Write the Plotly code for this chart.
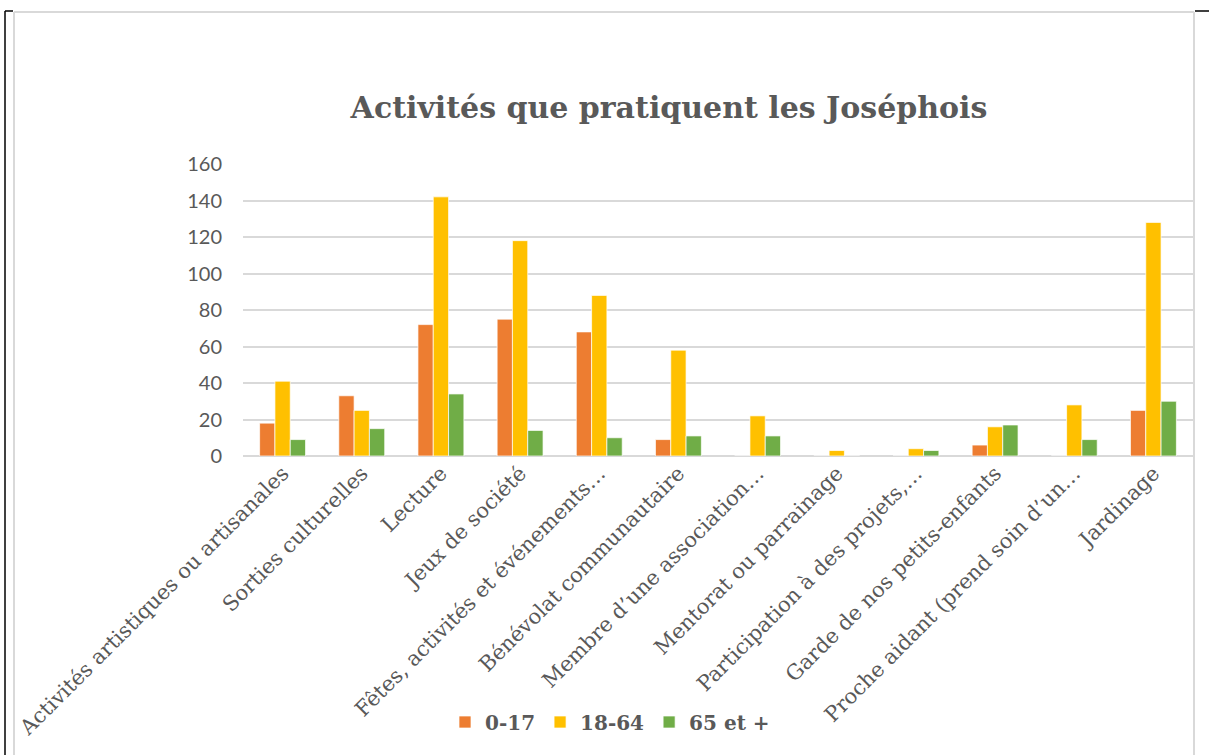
import plotly.graph_objects as go

CATEGORIES = [
    "Activités artistiques ou artisanales",
    "Sorties culturelles",
    "Lecture",
    "Jeux de société",
    "Fêtes, activités et événements…",
    "Bénévolat communautaire",
    "Membre d’une association…",
    "Mentorat ou parrainage",
    "Participation à des projets,…",
    "Garde de nos petits-enfants",
    "Proche aidant (prend soin d’un…",
    "Jardinage",
]

AGE_0_17 = [18, 33, 72, 75, 68, 9, 0, 0, 0, 6, 0, 25]
AGE_18_64 = [41, 25, 142, 118, 88, 58, 22, 3, 4, 16, 28, 128]
AGE_65_PLUS = [9, 15, 34, 14, 10, 11, 11, 0, 3, 17, 9, 30]

Y_TICKS = [0, 20, 40, 60, 80, 100, 120, 140, 160]

TEXT_GRAY = '#595959'
GRID_GRAY = '#d9d9d9'
SERIF = 'Palatino Linotype, Book Antiqua, DejaVu Serif, serif'

# plot area in pixels (1209 x 755 page)
W, H = 1209, 755
L, R, T, B = 243, 16, 164, 299
PW, PH = W - L - R, H - T - B


def px_x(x):
    return (x - L) / PW


def px_y(y):
    return (H - B - y) / PH


fig = go.Figure()
for name, vals, color in [
    ('0-17', AGE_0_17, '#ed7d31'),
    ('18-64', AGE_18_64, '#ffc000'),
    ('65 et +', AGE_65_PLUS, '#70ad47'),
]:
    fig.add_trace(go.Bar(
        x=CATEGORIES,
        y=vals,
        name=name,
        marker=dict(color=color, line=dict(color='rgba(255,255,255,0.7)', width=1)),
    ))

shapes = [
    # grey chart frame
    dict(type='line', xref='paper', yref='paper', x0=px_x(14), x1=px_x(1194),
         y0=px_y(12), y1=px_y(12), line=dict(color=GRID_GRAY, width=2)),
    dict(type='line', xref='paper', yref='paper', x0=px_x(14), x1=px_x(14),
         y0=px_y(12), y1=px_y(760), line=dict(color=GRID_GRAY, width=2)),
    dict(type='line', xref='paper', yref='paper', x0=px_x(1194), x1=px_x(1194),
         y0=px_y(12), y1=px_y(760), line=dict(color=GRID_GRAY, width=2)),
    # page crop marks
    dict(type='line', xref='paper', yref='paper', x0=px_x(5), x1=px_x(5),
         y0=px_y(11), y1=px_y(760), line=dict(color='black', width=1.5)),
    dict(type='line', xref='paper', yref='paper', x0=px_x(5), x1=px_x(13),
         y0=px_y(11), y1=px_y(11), line=dict(color='black', width=1.5)),
    dict(type='line', xref='paper', yref='paper', x0=px_x(1195), x1=px_x(1209),
         y0=px_y(11), y1=px_y(11), line=dict(color='black', width=1.5)),
]

fig.update_layout(
    width=W, height=H,
    margin=dict(l=L, r=R, t=T, b=B),
    paper_bgcolor='white',
    plot_bgcolor='white',
    barmode='group',
    bargap=0.42,
    bargroupgap=0,
    title=dict(
        text='<b>Activités que pratiquent les Joséphois</b>',
        x=669 / W, xanchor='center',
        y=1 - 107 / H, yanchor='middle',
        font=dict(family=SERIF, size=30, color=TEXT_GRAY),
    ),
    font=dict(family=SERIF, color=TEXT_GRAY),
    xaxis=dict(
        tickangle=-45,
        tickfont=dict(family=SERIF, size=21, color=TEXT_GRAY),
        showline=False,
        ticks='',
    ),
    yaxis=dict(
        range=[0, 160],
        tickvals=Y_TICKS,
        tickfont=dict(family='Lato, Open Sans, sans-serif', size=20, color=TEXT_GRAY),
        gridcolor=GRID_GRAY,
        gridwidth=1.5,
        zeroline=True,
        zerolinecolor=GRID_GRAY,
        zerolinewidth=1.5,
        ticklabelstandoff=20,
    ),
    legend=dict(
        orientation='h',
        x=px_x(610), xanchor='center',
        y=px_y(722), yanchor='middle',
        font=dict(family=SERIF, size=20, color=TEXT_GRAY, weight='bold'),
        itemwidth=30,
        traceorder='normal',
    ),
    shapes=shapes,
)

# page body margin would shift the figure by 8px
fig.write_html("out.html", config={'displayModeBar': False},
               post_script="document.body.style.margin='0';")
